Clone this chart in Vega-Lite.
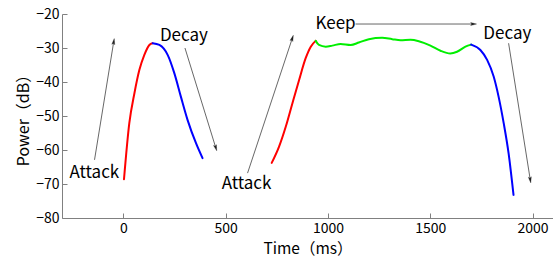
{
  "$schema": "https://vega.github.io/schema/vega-lite/v6.json",
  "autosize": {"type": "none"},
  "padding": {"left": 62, "top": 14, "right": 0, "bottom": 40},
  "width": 491,
  "height": 204,
  "background": "white",
  "config": {
    "view": {"stroke": null},
    "font": "Noto Sans CJK JP",
    "axis": {
      "grid": false,
      "domainColor": "#808080",
      "tickColor": "#808080",
      "labelColor": "black",
      "titleColor": "black",
      "labelFont": "Noto Sans CJK JP",
      "titleFont": "Noto Sans CJK JP",
      "labelFontSize": 14,
      "titleFontSize": 16,
      "titleFontWeight": "normal",
      "tickSize": -5,
      "labelPadding": 8,
      "labelOverlap": false
    }
  },
  "datasets": {
    "curve": [
      {"seg": "a1", "phase": "Attack", "t": 3, "p": -68.6},
      {"seg": "a1", "phase": "Attack", "t": 29, "p": -52.1},
      {"seg": "a1", "phase": "Attack", "t": 54, "p": -43.3},
      {"seg": "a1", "phase": "Attack", "t": 78, "p": -36.5},
      {"seg": "a1", "phase": "Attack", "t": 102, "p": -32.1},
      {"seg": "a1", "phase": "Attack", "t": 127, "p": -29.1},
      {"seg": "a1", "phase": "Attack", "t": 143, "p": -28.6},
      {"seg": "d1", "phase": "Decay", "t": 143, "p": -28.6},
      {"seg": "d1", "phase": "Decay", "t": 176, "p": -29.1},
      {"seg": "d1", "phase": "Decay", "t": 217, "p": -32.1},
      {"seg": "d1", "phase": "Decay", "t": 249, "p": -37.4},
      {"seg": "d1", "phase": "Decay", "t": 281, "p": -44.3},
      {"seg": "d1", "phase": "Decay", "t": 314, "p": -51.2},
      {"seg": "d1", "phase": "Decay", "t": 355, "p": -58.0},
      {"seg": "d1", "phase": "Decay", "t": 387, "p": -62.4},
      {"seg": "a2", "phase": "Attack", "t": 725, "p": -63.8},
      {"seg": "a2", "phase": "Attack", "t": 761, "p": -59.0},
      {"seg": "a2", "phase": "Attack", "t": 794, "p": -53.1},
      {"seg": "a2", "phase": "Attack", "t": 826, "p": -46.3},
      {"seg": "a2", "phase": "Attack", "t": 859, "p": -39.4},
      {"seg": "a2", "phase": "Attack", "t": 891, "p": -33.0},
      {"seg": "a2", "phase": "Attack", "t": 916, "p": -29.6},
      {"seg": "a2", "phase": "Attack", "t": 940, "p": -27.9},
      {"seg": "k", "phase": "Keep", "t": 940, "p": -27.9},
      {"seg": "k", "phase": "Keep", "t": 956, "p": -29.1},
      {"seg": "k", "phase": "Keep", "t": 989, "p": -29.6},
      {"seg": "k", "phase": "Keep", "t": 1021, "p": -29.3},
      {"seg": "k", "phase": "Keep", "t": 1062, "p": -28.8},
      {"seg": "k", "phase": "Keep", "t": 1111, "p": -29.1},
      {"seg": "k", "phase": "Keep", "t": 1151, "p": -28.4},
      {"seg": "k", "phase": "Keep", "t": 1200, "p": -27.4},
      {"seg": "k", "phase": "Keep", "t": 1265, "p": -27.0},
      {"seg": "k", "phase": "Keep", "t": 1314, "p": -27.4},
      {"seg": "k", "phase": "Keep", "t": 1355, "p": -27.7},
      {"seg": "k", "phase": "Keep", "t": 1403, "p": -27.6},
      {"seg": "k", "phase": "Keep", "t": 1444, "p": -28.0},
      {"seg": "k", "phase": "Keep", "t": 1501, "p": -29.3},
      {"seg": "k", "phase": "Keep", "t": 1550, "p": -30.8},
      {"seg": "k", "phase": "Keep", "t": 1598, "p": -31.6},
      {"seg": "k", "phase": "Keep", "t": 1631, "p": -31.1},
      {"seg": "k", "phase": "Keep", "t": 1672, "p": -29.6},
      {"seg": "k", "phase": "Keep", "t": 1700, "p": -29.0},
      {"seg": "d2", "phase": "Decay", "t": 1700, "p": -29.0},
      {"seg": "d2", "phase": "Decay", "t": 1745, "p": -30.6},
      {"seg": "d2", "phase": "Decay", "t": 1778, "p": -33.5},
      {"seg": "d2", "phase": "Decay", "t": 1810, "p": -38.4},
      {"seg": "d2", "phase": "Decay", "t": 1834, "p": -44.3},
      {"seg": "d2", "phase": "Decay", "t": 1859, "p": -52.1},
      {"seg": "d2", "phase": "Decay", "t": 1883, "p": -61.0},
      {"seg": "d2", "phase": "Decay", "t": 1907, "p": -73.2}
    ],
    "arrows": [
      {"x": -141, "y": -62.9, "x2": -47, "y2": -28.1},
      {"x": 301, "y": -30.0, "x2": 452, "y2": -59.4},
      {"x": 607, "y": -66.8, "x2": 826, "y2": -27.1},
      {"x": 1135, "y": -22.95, "x2": 1712, "y2": -22.95},
      {"x": 1883, "y": -28.6, "x2": 1989, "y2": -68.8}
    ],
    "labels": [
      {"text": "Attack", "x": -142, "y": -68.2},
      {"text": "Decay", "x": 296, "y": -27.8},
      {"text": "Attack", "x": 602, "y": -71.6},
      {"text": "Keep", "x": 1037, "y": -24.4},
      {"text": "Decay", "x": 1877, "y": -27.4}
    ]
  },
  "layer": [
    {
      "data": {"name": "curve"},
      "mark": {"type": "line", "strokeWidth": 2, "interpolate": "monotone", "strokeCap": "round"},
      "encoding": {
        "x": {"field": "t", "type": "quantitative", "scale": {"domain": [-300, 2100], "nice": false, "zero": false},
              "axis": {"title": "Time（ms）", "values": [0, 500, 1000, 1500, 2000], "tickCount": 20, "format": "d", "titlePadding": 6, "titleFontSize": 15.5, "labelOverlap": false}},
        "y": {"field": "p", "type": "quantitative", "scale": {"domain": [-80, -20], "nice": false, "zero": false},
              "axis": {"title": "Power（dB）", "values": [-80, -70, -60, -50, -40, -30, -20], "tickCount": 20, "titlePadding": 4, "labelOverlap": false, "labelFlush": false}},
        "detail": {"field": "seg"},
        "color": {"field": "phase", "type": "nominal", "legend": null,
                  "scale": {"domain": ["Attack", "Decay", "Keep"], "range": ["#ff0000", "#0000ff", "#00ee00"]}},
        "order": {"field": "t", "type": "quantitative"}
      }
    },
    {
      "data": {"name": "arrows"},
      "mark": {"type": "rule", "color": "#404040", "strokeWidth": 0.8},
      "encoding": {
        "x": {"field": "x", "type": "quantitative"},
        "y": {"field": "y", "type": "quantitative"},
        "x2": {"field": "x2"},
        "y2": {"field": "y2"}
      }
    },
    {
      "data": {"name": "arrows"},
      "transform": [
        {"calculate": "atan2((datum.x2 - datum.x) * 0.2046, (datum.y2 - datum.y) * 3.4) * 180 / PI", "as": "ang"}
      ],
      "mark": {"type": "point", "shape": "M0,-1L0.5,1L0,0.6L-0.5,1Z", "filled": true, "fill": "#202020", "stroke": "#202020", "strokeWidth": 0.3, "size": 36, "opacity": 1},
      "encoding": {
        "x": {"field": "x2", "type": "quantitative"},
        "y": {"field": "y2", "type": "quantitative"},
        "angle": {"field": "ang", "type": "quantitative", "scale": null}
      }
    },
    {
      "data": {"name": "labels"},
      "mark": {"type": "text", "fontSize": 17, "baseline": "alphabetic", "align": "center", "color": "black", "font": "Noto Sans CJK JP"},
      "encoding": {
        "x": {"field": "x", "type": "quantitative"},
        "y": {"field": "y", "type": "quantitative"},
        "text": {"field": "text"}
      }
    }
  ]
}
